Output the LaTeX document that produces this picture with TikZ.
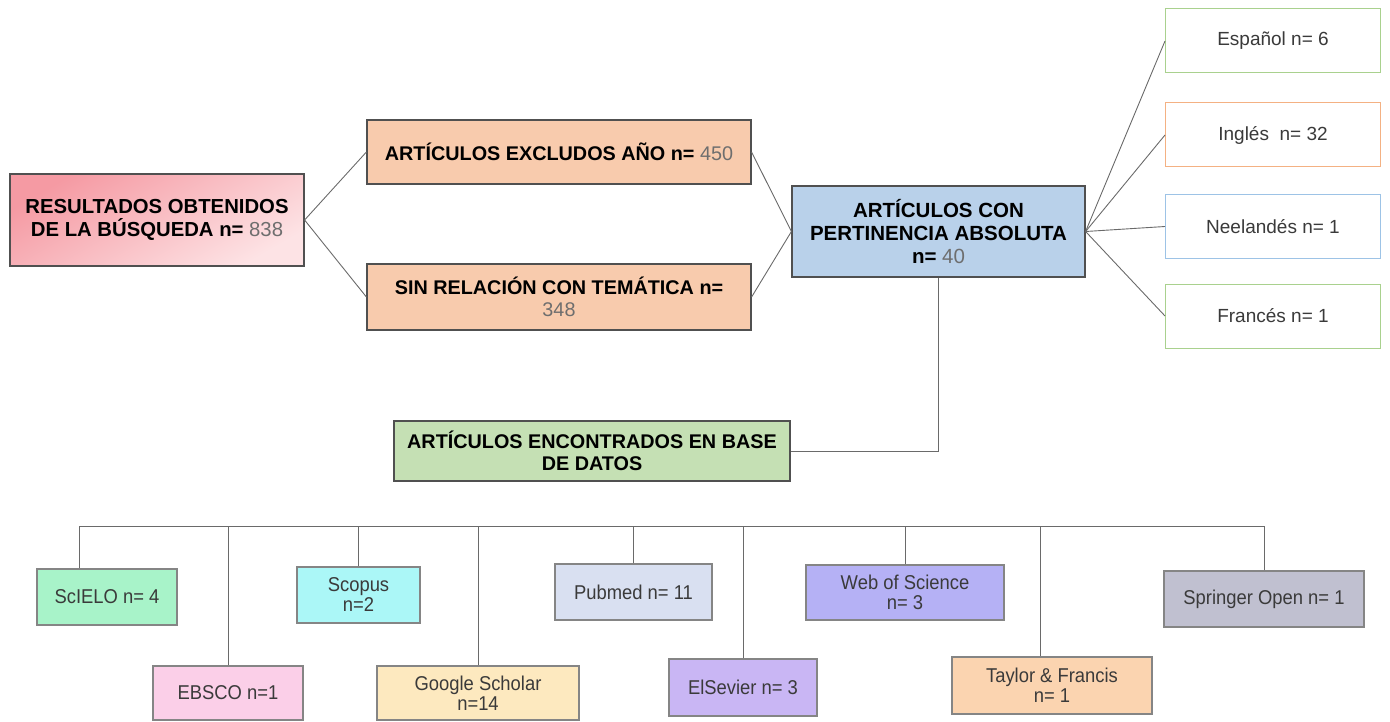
\documentclass[tikz,border=0pt]{standalone}
\usepackage{fontspec}
\setmainfont{Liberation Sans}
\newfontfamily\narrowsans[FakeStretch=0.92]{Liberation Sans}
\usepackage{tikz}
\usetikzlibrary{arrows}

\definecolor{resA}{HTML}{F59AA3}
\definecolor{resB}{HTML}{FDE3E5}
\definecolor{peach}{HTML}{F8CBAD}
\definecolor{skyblue}{HTML}{B9D1EA}
\definecolor{leafgreen}{HTML}{C5E0B4}
\definecolor{boxline}{HTML}{505050}
\definecolor{linegray}{HTML}{6A6A6A}
\definecolor{numgray}{HTML}{6E6E6E}
\definecolor{txtgray}{HTML}{3A3A3A}
\definecolor{bordgreen}{HTML}{A9D18E}
\definecolor{bordorange}{HTML}{F4B183}
\definecolor{bordblue}{HTML}{9DC3E6}
\definecolor{basegray}{HTML}{858585}
\definecolor{mint}{HTML}{A8F3C9}
\definecolor{pinkb}{HTML}{FBCFE8}
\definecolor{cyanb}{HTML}{ABF7F7}
\definecolor{yellowb}{HTML}{FDE9BF}
\definecolor{greyblue}{HTML}{D9E0F1}
\definecolor{lilac}{HTML}{C9B6F4}
\definecolor{violetb}{HTML}{B5B1F5}
\definecolor{apricot}{HTML}{FBD4B0}
\definecolor{slate}{HTML}{C0C0D0}

\begin{document}
\begin{tikzpicture}[x=1pt,y=-1pt,-,line width=0.9pt,
  main node/.style={rectangle,draw=boxline,line width=1.2pt,align=center,inner sep=2pt,font=\fontsize{19.8}{22}\selectfont\bfseries},
  lang node/.style={rectangle,fill=white,draw,line width=1pt,align=center,minimum width=215pt,minimum height=64pt,text=txtgray,font=\fontsize{19}{21}\selectfont},
  base node/.style={rectangle,draw=basegray,line width=1.3pt,align=center,minimum height=56pt,inner sep=1pt,text=txtgray,font=\narrowsans\fontsize{20}{20}\selectfont}]
  \useasboundingbox (0,0) rectangle (1390,722);

  \node[main node,minimum width=294pt,minimum height=92pt,top color=resA,bottom color=resB,shading angle=30,font=\fontsize{20.3}{23}\selectfont\bfseries] (res) at (157,220)
    {RESULTADOS OBTENIDOS\\DE LA BÚSQUEDA n= {\mdseries\color{numgray}838}};
  \node[main node,fill=peach,minimum width=384pt,minimum height=64pt] (excl) at (559,152)
    {ARTÍCULOS EXCLUDOS AÑO n= {\mdseries\color{numgray}450}};
  \node[main node,fill=peach,minimum width=384pt,minimum height=66pt] (sin) at (559,297)
    {SIN RELACIÓN CON TEMÁTICA n=\\{\mdseries\color{numgray}348}};
  \node[main node,fill=skyblue,minimum width=293pt,minimum height=91pt,font=\fontsize{20.5}{23}\selectfont\bfseries] (abs) at (938.5,231.5)
    {ARTÍCULOS CON\\PERTINENCIA ABSOLUTA\\n= {\mdseries\color{numgray}40}};
  \node[main node,fill=leafgreen,minimum width=396pt,minimum height=60pt] (enc) at (592,451)
    {ARTÍCULOS ENCONTRADOS EN BASE\\DE DATOS};

  \node[lang node,draw=bordgreen] (esp) at (1273,41) {Español n= 6};
  \node[lang node,draw=bordorange] (ing) at (1273,135) {Inglés\ \ n= 32};
  \node[lang node,draw=bordblue] (nee) at (1273,226.5) {Neelandés n= 1};
  \node[lang node,draw=bordgreen] (fra) at (1273,316) {Francés n= 1};

  \node[base node,fill=mint,minimum width=140pt] (scielo) at (107,597) {ScIELO n= 4};
  \node[base node,fill=pinkb,minimum width=150pt,minimum height=54pt] (ebsco) at (228,693) {EBSCO n=1};
  \node[base node,fill=cyanb,minimum width=123pt] (scopus) at (358.5,595) {Scopus\\n=2};
  \node[base node,fill=yellowb,minimum width=202pt,minimum height=54pt] (google) at (478,693) {Google Scholar\\n=14};
  \node[base node,fill=greyblue,minimum width=157pt] (pubmed) at (633.5,592) {Pubmed n= 11};
  \node[base node,fill=lilac,minimum width=148pt,minimum height=57pt] (elsevier) at (743,687.5) {ElSevier n= 3};
  \node[base node,fill=violetb,minimum width=198pt,minimum height=55pt] (wos) at (905,592.5) {Web of Science\\n= 3};
  \node[base node,fill=apricot,minimum width=200pt,minimum height=57pt] (taylor) at (1052,685.5) {Taylor \& Francis\\n= 1};
  \node[base node,fill=slate,minimum width=200pt] (springer) at (1264,599) {Springer Open n= 1};

  \coordinate (bus) at (0,526);
  \coordinate (scielo top) at ([xshift=-28pt]scielo.north);
  \coordinate (taylor top) at ([xshift=-12pt]taylor.north);

  \path[draw=linegray]
    (res.east) edge (excl.west)
    (res.east) edge (sin.west)
    (excl.east) edge (abs.west)
    (sin.east) edge (abs.west)
    (abs.east) edge (esp.west)
    (abs.east) edge (ing.west)
    (abs.east) edge (nee.west)
    (abs.east) edge (fra.west);
  \draw[draw=linegray] (abs.south) |- (enc.east);

  \draw[draw=linegray] (scielo top |- bus) -- (springer.north |- bus);
  \path[draw=linegray]
    (scielo top) edge (scielo top |- bus)
    (ebsco.north) edge (ebsco.north |- bus)
    (scopus.north) edge (scopus.north |- bus)
    (google.north) edge (google.north |- bus)
    (pubmed.north) edge (pubmed.north |- bus)
    (elsevier.north) edge (elsevier.north |- bus)
    (wos.north) edge (wos.north |- bus)
    (taylor top) edge (taylor top |- bus)
    (springer.north) edge (springer.north |- bus);
\end{tikzpicture}
\end{document}
